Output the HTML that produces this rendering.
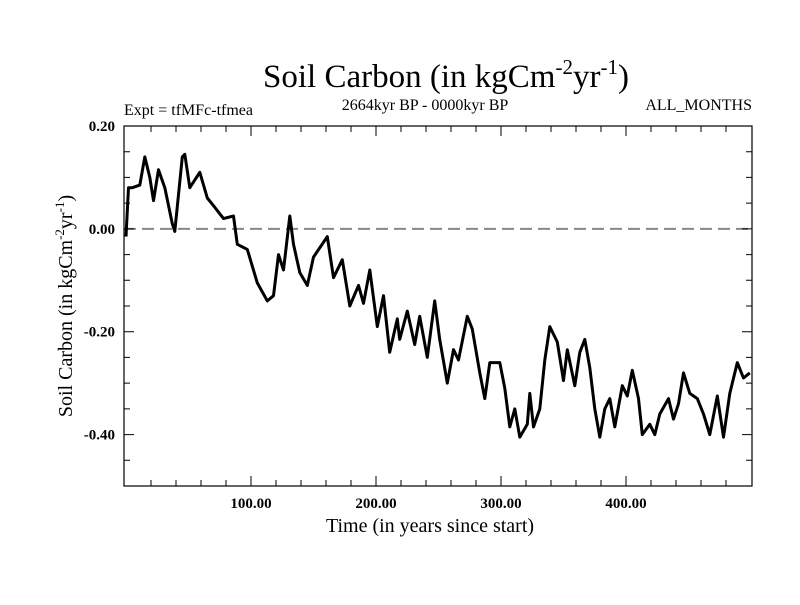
<!DOCTYPE html>
<html><head><meta charset="utf-8"><style>
body{margin:0;background:#fff;}
svg text{font-family:"Liberation Serif",serif;fill:#000;}
</style></head><body>
<svg id="chart" width="800" height="600" viewBox="0 0 800 600">
<text x="446" y="87" text-anchor="middle" font-size="33">Soil Carbon (in kgCm<tspan dy="-13" font-size="21">-2</tspan><tspan dy="13">yr</tspan><tspan dy="-13" font-size="21">-1</tspan><tspan dy="13">)</tspan></text>
<text x="124" y="115" font-size="16">Expt = tfMFc-tfmea</text>
<text x="425" y="110" text-anchor="middle" font-size="16">2664kyr BP - 0000kyr BP</text>
<text x="752" y="110" text-anchor="end" font-size="16">ALL_MONTHS</text>
<g id="axes"></g>
<text x="430" y="532" text-anchor="middle" font-size="20">Time (in years since start)</text>
<text transform="translate(72,306) rotate(-90)" text-anchor="middle" font-size="20">Soil Carbon (in kgCm<tspan dy="-8" font-size="13">-2</tspan><tspan dy="8">yr</tspan><tspan dy="-8" font-size="13">-1</tspan><tspan dy="8">)</tspan></text>
</svg>
<script>
const years=[0,2,5,11,15,19,22,26,31,37,39,45,47,51,59,65,70,78,86,89,97,105,113,118,122,126,131,134,139,145,150,161,166,173,179,186,190,195,201,206,211,217,219,225,231,235,241,247,251,257,262,266,273,277,283,287,291,299,303,307,311,315,321,323,326,331,335,339,345,350,353,359,363,367,371,375,379,383,387,391,397,401,405,410,413,419,423,427,434,438,442,446,451,457,462,467,473,478,483,489,494,499];
const soilCarbon=[-0.015,0.08,0.08,0.085,0.14,0.10,0.055,0.115,0.08,0.01,-0.005,0.14,0.145,0.08,0.11,0.06,0.045,0.02,0.025,-0.03,-0.04,-0.105,-0.14,-0.13,-0.05,-0.08,0.025,-0.03,-0.085,-0.11,-0.055,-0.015,-0.095,-0.06,-0.15,-0.11,-0.145,-0.08,-0.19,-0.13,-0.24,-0.175,-0.215,-0.16,-0.225,-0.17,-0.25,-0.14,-0.215,-0.30,-0.235,-0.255,-0.17,-0.195,-0.28,-0.33,-0.26,-0.26,-0.31,-0.385,-0.35,-0.405,-0.38,-0.32,-0.385,-0.35,-0.255,-0.19,-0.22,-0.295,-0.235,-0.305,-0.24,-0.215,-0.27,-0.35,-0.405,-0.35,-0.33,-0.385,-0.305,-0.325,-0.275,-0.33,-0.40,-0.38,-0.40,-0.36,-0.33,-0.37,-0.34,-0.28,-0.32,-0.33,-0.36,-0.40,-0.325,-0.405,-0.32,-0.26,-0.29,-0.28];
const xTicks=[100,200,300,400];
const xTickLabels=["100.00","200.00","300.00","400.00"];
const yTicks=[0.2,0,-0.2,-0.4];
const yTickLabels=["0.20","0.00","-0.20","-0.40"];
const X0=124,X1=752,Y0=126,Y1=486;
const xMin=-1.6,xMax=500.8,yMin=-0.5,yMax=0.2;
const sx=v=>X0+(v-xMin)/(xMax-xMin)*(X1-X0);
const sy=v=>Y1-(v-yMin)/(yMax-yMin)*(Y1-Y0);
const NS="http://www.w3.org/2000/svg";
const g=document.getElementById('axes');
function mk(t,a){const e=document.createElementNS(NS,t);for(const k in a)e.setAttribute(k,a[k]);g.appendChild(e);return e;}
const zl=mk('line',{x1:X0,x2:X1,y1:sy(0),y2:sy(0),stroke:'#888','stroke-width':2,'stroke-dasharray':'12,6'});


let d='';
for(let i=0;i<years.length;i++){d+=(i?'L':'M')+sx(years[i]).toFixed(1)+','+sy(soilCarbon[i]).toFixed(1);}
const ln=mk('path',{d:d,fill:'none',stroke:'#000','stroke-width':3,'stroke-linejoin':'round'});


const fr=mk('rect',{x:X0,y:Y0,width:X1-X0,height:Y1-Y0,fill:'none',stroke:'#000','stroke-width':1.2});


let td='';
for(let v=20;v<500;v+=20){const x=sx(v);const L=(v%100===0)?10:6;td+=`M${x},${Y1}v${-L}M${x},${Y0}v${L}`;}
for(let k=-10;k<=4;k++){const v=k*0.05;const y=sy(v);const L=(k%4===0)?10:6;td+=`M${X0},${y}h${L}M${X1},${y}h${-L}`;}
const tk=mk('path',{d:td,stroke:'#000','stroke-width':1,fill:'none'});


xTicks.forEach((v,i)=>{const t=mk('text',{x:sx(v),y:Y1+22,'text-anchor':'middle','font-size':15,'font-weight':'bold'});t.textContent=xTickLabels[i];

});
yTicks.forEach((v,i)=>{const t=mk('text',{x:X0-9,y:sy(v)+5,'text-anchor':'end','font-size':15,'font-weight':'bold'});t.textContent=yTickLabels[i];

});
</script>
</body></html>
